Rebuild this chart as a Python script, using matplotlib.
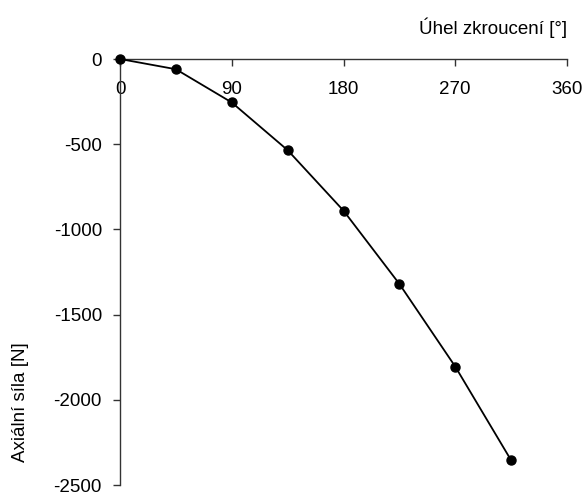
import matplotlib
matplotlib.use("Agg")
import matplotlib.pyplot as plt

angle = [0, 45, 90, 135, 180, 225, 270, 315]
force = [0, -60, -255, -535, -890, -1320, -1805, -2355]
xticks = [0, 90, 180, 270, 360]
yticks = [0, -500, -1000, -1500, -2000, -2500]

plt.rcParams['font.family'] = ['Liberation Sans', 'DejaVu Sans']

fig = plt.figure(figsize=(5.87, 4.93), dpi=100)
ax = fig.add_axes([120/587, 1-485/493, (567-120)/587, (485-59)/493])
ax.plot(angle, force, color='black', lw=1.3, marker='o', ms=6.5, clip_on=False, zorder=5)
ax.set_xlim(0, 360)
ax.set_ylim(-2500, 0)
ax.spines['top'].set_visible(False)
ax.spines['right'].set_visible(False)
ax.spines['bottom'].set_position(('data', 0))
for s in ('bottom', 'left'):
    ax.spines[s].set_linewidth(1.0)
    ax.spines[s].set_color('#333333')
ax.set_xticks(xticks)
ax.set_yticks(yticks)
ax.set_xticklabels([str(v) for v in xticks])
ax.set_yticklabels([str(v) for v in yticks])
ax.tick_params(axis='both', direction='out', length=5, width=1.0, color='#333333', labelsize=13.5)
ax.tick_params(axis='x', pad=11)
ax.tick_params(axis='y', pad=8)
fig.text(567/587, 1-28/493, 'Úhel zkroucení [°]', ha='right', va='center', fontsize=13.5)
fig.text(21/587, 1-402/493, 'Axiální síla [N]', ha='center', va='center', rotation=90, fontsize=13.5)
fig.savefig('out.png', dpi=100)
